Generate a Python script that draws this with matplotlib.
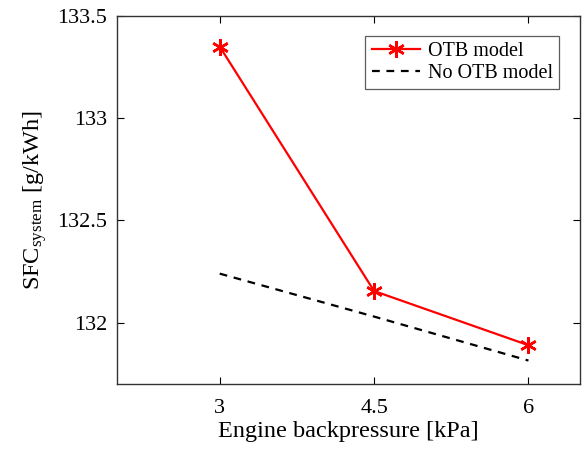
import matplotlib
matplotlib.use('Agg')
import matplotlib.pyplot as plt

backpressure = [3, 4.5, 6]
sfc_otb = [133.35, 132.155, 131.89]
sfc_no_otb = [132.24, 132.03, 131.815]
xticks = [3, 4.5, 6]
yticks = [132, 132.5, 133, 133.5]

plt.rcParams['font.family'] = ['Liberation Serif', 'DejaVu Serif']
plt.rcParams['mathtext.fontset'] = 'custom'
plt.rcParams['mathtext.rm'] = 'Liberation Serif'
plt.rcParams['mathtext.it'] = 'Liberation Serif:italic'

fig = plt.figure(figsize=(5.84, 4.54), dpi=100)
ax = fig.add_axes([0.2, 0.154, 0.793, 0.811])

# MATLAB-like asterisk marker
ax.plot(backpressure, sfc_otb, color='red', linewidth=1.6, marker=(6, 2, 0),
        markersize=12, markeredgewidth=1.8, label='OTB model')
ax.plot(backpressure, sfc_no_otb, color='black', linestyle='--',
        linewidth=1.6, dashes=(3.5, 3), label='No OTB model')

ax.set_xlim(2, 6.5)
ax.set_ylim(131.7, 133.5)
ax.set_xticks(xticks)
ax.set_xticklabels(['3', '4.5', '6'])
ax.set_yticks(yticks)
ax.set_yticklabels(['132', '132.5', '133', '133.5'])
ax.tick_params(direction='in', top=True, right=True, labelsize=16,
               length=5, width=0.8)
ax.tick_params(axis='x', pad=11)
ax.tick_params(axis='y', pad=7)
for s in ax.spines.values():
    s.set_linewidth(1.0)
    s.set_color('#333333')

ax.set_xlabel('Engine backpressure [kPa]', fontsize=17.5, labelpad=2)
ax.set_ylabel(r'SFC$_{\mathrm{system}}$ [g/kWh]', fontsize=17.5, labelpad=6)

leg = ax.legend(loc='upper right', bbox_to_anchor=(0.955, 0.946), fontsize=14.5,
                frameon=True, fancybox=False, edgecolor='#333333',
                handlelength=2.4, borderpad=0.3, labelspacing=0.15,
                handletextpad=0.4, borderaxespad=0)
leg.get_frame().set_linewidth(0.9)

fig.savefig('out.png', dpi=100)
